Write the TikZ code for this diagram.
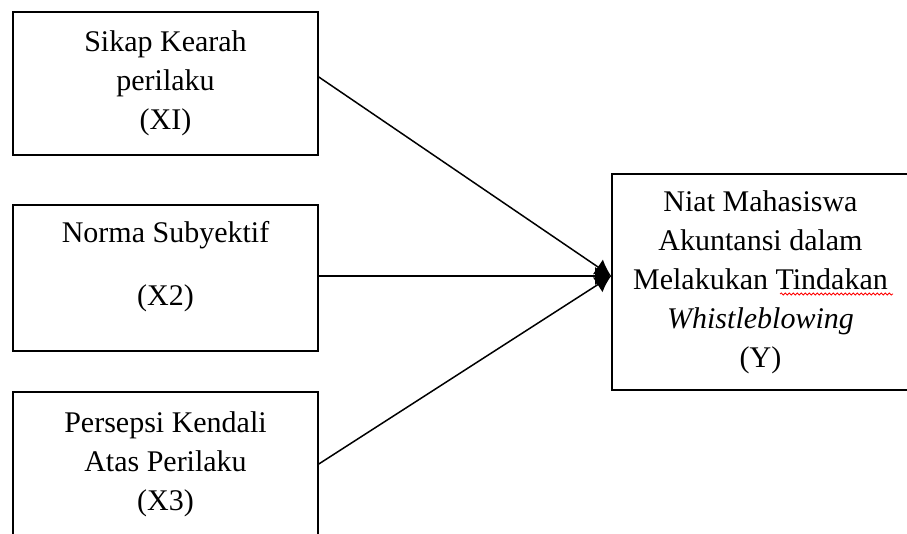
\documentclass[tikz,border=0pt]{standalone}
\usepackage{fontspec}
\setmainfont{Liberation Serif}
\usetikzlibrary{arrows.meta,decorations.pathmorphing}

\begin{document}
\begin{tikzpicture}[x=0.5pt, y=-0.5pt, >={Latex[length=8pt,width=9pt]},
  txt/.style={align=center, font=\fontsize{15}{19.5}\selectfont},
  var/.style={txt, draw, line width=0.8pt, inner sep=0pt}]
  \clip (0,0) rectangle (907,534);
  % Independent variables (left column)
  \node[var, minimum width=152.5pt, minimum height=71.5pt] (sikap) at (165.5,83.5) {Sikap Kearah\\perilaku\\(XI)};
  \node[var, minimum width=152.5pt, minimum height=73pt] (norma) at (165.5,278) {};
  \node[txt] (normatxt) at (165.5,266.5) {Norma Subyektif\\[12pt](X2)};
  \node[var, minimum width=152.5pt, minimum height=72pt] (persepsi) at (165.5,464) {Persepsi Kendali\\Atas Perilaku\\(X3)};
  % Dependent variable (cut off at the right edge)
  \node[var, minimum width=148.5pt, minimum height=108pt] (niat) at (760.5,282)
    {Niat Mahasiswa\\Akuntansi dalam\\Melakukan Tindakan\\\textit{Whistleblowing}\\(Y)};
  % Spell-check mark under "Tindakan"
  \draw[red, line width=0.4pt, decorate, decoration={snake, amplitude=0.5pt, segment length=2pt}]
    ([shift={(19.5,12)}]niat.center) -- ([shift={(132.5,12)}]niat.center);
  % Paths
  \coordinate (meet) at ([yshift=3pt]niat.west);
  \draw[->, line width=0.75pt] ([yshift=3.25pt]sikap.east) -- (meet);
  \draw[->, line width=0.75pt] ([yshift=1pt]norma.east) -- (meet);
  \draw[->, line width=0.75pt] (persepsi.east) -- (meet);
\end{tikzpicture}
\end{document}
